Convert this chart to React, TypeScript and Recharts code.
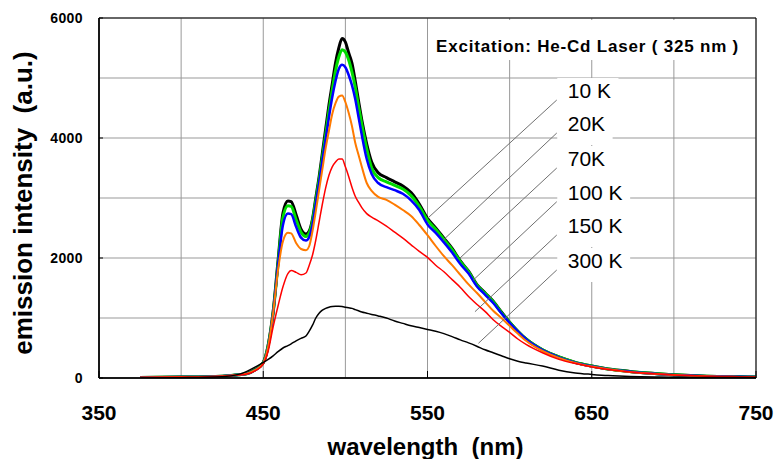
import React from 'react';
import {
  LineChart,
  Line,
  XAxis,
  YAxis,
  CartesianGrid,
  ReferenceLine,
  ReferenceDot,
  ReferenceArea,
} from 'recharts';

const FONT = '"Liberation Sans", Arial, Helvetica, sans-serif';

// wavelength (nm)
const wavelength = [
  375, 400, 425, 435, 440, 445, 450,
  453, 456, 459, 462, 465, 467, 470,
  473, 476, 478, 480, 482, 484, 486,
  488, 490, 492, 494, 496, 498, 500,
  502, 504, 506, 508, 510, 513, 516,
  520, 525, 530, 535, 540, 545, 550,
  555, 560, 565, 570, 575, 580, 585,
  590, 595, 600, 605, 610, 620, 630,
  640, 650, 660, 670, 680, 690, 700,
  710, 720, 730, 740, 750,
];

// emission intensity (a.u.) per temperature
const k10 = [
  10, 15, 30, 55, 75, 140, 260,
  550, 1100, 1950, 2750, 2950, 2940, 2720,
  2480, 2400, 2450, 2650, 3000, 3350, 3750,
  4150, 4550, 4900, 5250, 5500, 5660, 5600,
  5420, 5250, 4950, 4620, 4300, 3900, 3600,
  3420, 3340, 3270, 3200, 3090, 2900, 2660,
  2500, 2330, 2160, 1950, 1780, 1560, 1420,
  1280, 1100, 930, 780, 650, 470, 350,
  260, 200, 150, 120, 90, 70, 55,
  40, 30, 25, 20, 15,
];
const k20 = [
  10, 15, 30, 55, 72, 135, 255,
  540, 1080, 1900, 2680, 2870, 2860, 2640,
  2430, 2360, 2420, 2620, 2960, 3300, 3680,
  4060, 4450, 4800, 5120, 5350, 5470, 5430,
  5300, 5100, 4850, 4530, 4230, 3820, 3500,
  3340, 3270, 3210, 3150, 3040, 2860, 2630,
  2480, 2310, 2140, 1940, 1770, 1550, 1410,
  1270, 1090, 930, 780, 650, 470, 350,
  260, 200, 150, 115, 90, 70, 55,
  40, 30, 25, 20, 15,
];
const k70 = [
  10, 15, 30, 55, 70, 130, 250,
  520, 1080, 1880, 2550, 2740, 2730, 2520,
  2340, 2290, 2350, 2560, 2900, 3250, 3620,
  3980, 4350, 4680, 4950, 5150, 5220, 5180,
  5050, 4880, 4650, 4350, 4050, 3650, 3400,
  3250, 3180, 3130, 3070, 2960, 2800, 2560,
  2420, 2260, 2090, 1900, 1740, 1530, 1390,
  1250, 1080, 920, 775, 645, 465, 345,
  255, 195, 148, 115, 88, 68, 52,
  40, 30, 24, 19, 15,
];
const k100 = [
  10, 15, 30, 55, 70, 130, 250,
  520, 1080, 1800, 2280, 2420, 2410, 2250,
  2150, 2130, 2200, 2450, 2780, 3130, 3480,
  3830, 4120, 4400, 4580, 4690, 4710, 4600,
  4420, 4200, 3920, 3720, 3520, 3250, 3120,
  3020, 2970, 2890, 2800, 2700, 2550, 2380,
  2200, 2030, 1880, 1720, 1560, 1420, 1270,
  1120, 1000, 870, 740, 620, 450, 335,
  250, 190, 145, 110, 85, 65, 50,
  38, 28, 22, 18, 14,
];
const k150 = [
  10, 15, 30, 50, 65, 120, 230,
  450, 850, 1200, 1520, 1740, 1790, 1760,
  1720, 1750, 1880, 2050, 2300, 2600, 2900,
  3170, 3380, 3520, 3600, 3650, 3650, 3520,
  3360, 3180, 3030, 2930, 2840, 2740, 2680,
  2620, 2530, 2430, 2330, 2220, 2110, 2010,
  1880, 1770, 1640, 1510, 1360, 1230, 1110,
  970, 860, 760, 650, 560, 420, 310,
  240, 185, 140, 110, 85, 65, 50,
  40, 30, 25, 20, 18,
];
const k300 = [
  0, 5, 20, 60, 110, 180, 260,
  310, 370, 440, 500, 540, 570, 620,
  660, 700, 780, 880, 1000, 1080, 1130,
  1160, 1180, 1190, 1195, 1195, 1190, 1180,
  1170, 1160, 1140, 1120, 1100, 1080, 1060,
  1035, 1000, 950, 910, 870, 840, 810,
  780, 740, 690, 635, 585, 530, 470,
  420, 370, 320, 280, 250, 200, 130,
  85, 60, 40, 30, 20, 15, 12,
  10, 10, 10, 10, 10,
];

const xTicks = [350, 400, 450, 500, 550, 600, 650, 700, 750];
const xLabelled = [350, 450, 550, 650, 750];
const yTicks = [0, 1000, 2000, 3000, 4000, 5000, 6000];
const yLabelled = [0, 2000, 4000, 6000];

// temperature tags, with leader lines (label end -> curve end), in data units
const tempLabels = ['10 K', '20K', '70K', '100 K', '150 K', '300 K'];
const leaderTopX = 628.7;
const leaderTopY = [4633, 4083, 3500, 2938, 2383, 1800];
const leaderEndX = [550.3, 559.6, 569.8, 577.9, 578.9, 581];
const leaderEndY = [2667, 2300, 2000, 1633, 1105, 578];

const excitationText = 'Excitation: He-Cd Laser ( 325 nm )';
const excitationAt = { x: 555.2, y: 5433 };

const series = [
  { key: 'k10', color: '#000000', width: 3 },
  { key: 'k20', color: '#00dd00', width: 3 },
  { key: 'k70', color: '#0000ff', width: 2.5 },
  { key: 'k100', color: '#ff7a00', width: 2 },
  { key: 'k150', color: '#ff0000', width: 1.5 },
  { key: 'k300', color: '#000000', width: 1.5 },
];

const data = wavelength.map((w, i) => ({
  w,
  k10: k10[i],
  k20: k20[i],
  k70: k70[i],
  k100: k100[i],
  k150: k150[i],
  k300: k300[i],
}));

function textWidth(s: string, size: number) {
  let w = 0;
  for (const c of s) w += c === ' ' ? 0.278 : c === 'K' ? 0.667 : 0.556;
  return w * size;
}

function XTick(p: any) {
  if (!xLabelled.includes(p.payload.value)) return null;
  return (
    <g>
      <line x1={p.x} x2={p.x} y1={p.y - 34} y2={p.y - 27} stroke="#000" strokeWidth={1} />
      <text x={p.x} y={p.y} dy="0.71em" textAnchor="middle" fontSize={21} fontWeight="bold" fontFamily={FONT} fill="#000">
        {p.payload.value}
      </text>
    </g>
  );
}

function YTick(p: any) {
  if (!yLabelled.includes(p.payload.value)) return null;
  return (
    <g>
      <line x1={p.x + 16} x2={p.x + 20} y1={p.y} y2={p.y} stroke="#000" strokeWidth={1} />
      <text x={p.x} y={p.y} dy="0.355em" textAnchor="end" fontSize={14} fontWeight="bold" letterSpacing={0.4} fontFamily={FONT} fill="#000">
        {p.payload.value}
      </text>
    </g>
  );
}

function xTitle(p: any) {
  const vb = p.viewBox || {};
  return (
    <text x={vb.x + vb.width / 2 - 2} y={vb.y + 77} textAnchor="middle" fontSize={24} fontWeight="bold" fontFamily={FONT} fill="#000" style={{ whiteSpace: 'pre' }}>
      {'wavelength  (nm)'}
    </text>
  );
}

function yTitle(p: any) {
  const vb = p.viewBox || {};
  const x = vb.x + 32;
  const y = vb.y + vb.height / 2 + 5;
  return (
    <text x={x} y={y} transform={`rotate(-90, ${x}, ${y})`} textAnchor="middle" fontSize={26} fontWeight="bold" fontFamily={FONT} fill="#000" style={{ whiteSpace: 'pre' }}>
      {'emission intensity  (a.u.)'}
    </text>
  );
}

function tempTag(text: string) {
  return (p: any) => {
    const vb = p.viewBox || {};
    const x = vb.x ?? 0;
    const y = vb.y ?? 0;
    return (
      <g>
        <rect x={x + 0.5} y={y - 22} width={textWidth(text, 21) + 18} height={34} fill="#fff" />
        <text x={x + 11} y={y - 2} fontSize={21} fontFamily={FONT} fill="#000">{text}</text>
      </g>
    );
  };
}

function excitationTag(p: any) {
  const vb = p.viewBox || {};
  const x = vb.x ?? 0;
  const y = vb.y ?? 0;
  return (
    <g>
      <rect x={x - 5} y={y - 32} width={314} height={40} fill="#fff" />
      <text x={x} y={y} fontSize={17} fontWeight="bold" letterSpacing={0.8} fontFamily={FONT} fill="#000">
        {excitationText}
      </text>
    </g>
  );
}

export default function App() {
  return (
    <div style={{ position: 'absolute', left: 0, top: 0, width: 783, height: 459, background: '#fff' }}>
      <LineChart width={783} height={459} data={data} margin={{ top: 18, right: 27, bottom: 0, left: 0 }}>
        <CartesianGrid stroke="#999" strokeWidth={1} />
        <XAxis
          type="number"
          dataKey="w"
          domain={[350, 750]}
          ticks={xTicks}
          interval={0}
          allowDataOverflow
          height={81}
          tickSize={6}
          tickMargin={21}
          tickLine={false}
          axisLine={{ stroke: '#000', strokeWidth: 1.5 }}
          tick={XTick}
          label={{ content: xTitle }}
        />
        <YAxis
          type="number"
          domain={[0, 6000]}
          ticks={yTicks}
          interval={0}
          allowDataOverflow
          width={99}
          tickSize={6}
          tickMargin={10}
          tickLine={false}
          axisLine={{ stroke: '#000', strokeWidth: 1.5 }}
          tick={YTick}
          label={{ content: yTitle }}
        />
        <ReferenceArea x1={350} x2={750} y1={0} y2={6000} fill="none" stroke="#000" strokeWidth={1} ifOverflow="visible" />
        <ReferenceDot x={excitationAt.x} y={excitationAt.y} r={0} fill="none" stroke="none" ifOverflow="visible" label={{ content: excitationTag }} />
        {tempLabels.map((t, i) => (
          <ReferenceDot
            key={t}
            x={leaderTopX}
            y={leaderTopY[i]}
            r={0}
            fill="none"
            stroke="none"
            ifOverflow="visible"
            label={{ content: tempTag(t) }}
          />
        ))}
        {series.map((s) => (
          <Line
            key={s.key}
            type="monotone"
            dataKey={s.key}
            stroke={s.color}
            strokeWidth={s.width}
            dot={false}
            activeDot={false}
            isAnimationActive={false}
          />
        ))}
        {tempLabels.map((t, i) => (
          <ReferenceLine
            key={'l' + t}
            segment={[
              { x: leaderTopX, y: leaderTopY[i] },
              { x: leaderEndX[i], y: leaderEndY[i] },
            ]}
            stroke="#6f6f6f"
            strokeWidth={1}
            ifOverflow="visible"
          />
        ))}
      </LineChart>
    </div>
  );
}
